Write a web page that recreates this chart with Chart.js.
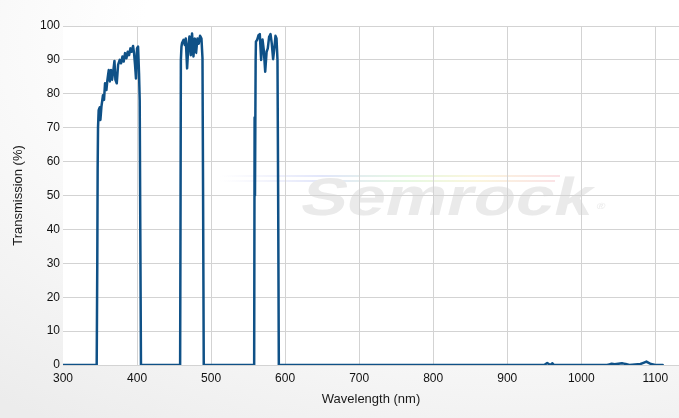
<!DOCTYPE html>
<html>
<head>
<meta charset="utf-8">
<script src="https://cdn.jsdelivr.net/npm/chart.js@4.4.1/dist/chart.umd.min.js"></script>
<style>
  html, body { margin: 0; padding: 0; }
  body {
    width: 679px;
    height: 418px;
    background: radial-gradient(ellipse 120% 110% at 75% 10%, #ffffff 45%, #ececec 100%);
  }
  #wrap { position: relative; width: 679px; height: 418px; }
</style>
</head>
<body>
<div id="wrap"><canvas id="transChart"></canvas></div>
<script>
// wavelength (nm) / transmission (%)
const wavelength = [
  300, 345.5, 346.3, 346.8, 347.3, 348.2, 349.6, 350.5, 351.9, 354, 355.4, 356.8, 358.6, 360,
  361.8, 363.1, 364.9, 366.2, 368.1, 369.5, 370.8, 372.6, 374.4, 376.6, 378.4, 380.3, 382,
  383.8, 385.7, 387.4, 389.2, 391.1, 392.8, 394.6, 396, 397.3, 398.6, 400, 401.4, 402.7,
  403.6, 404.4, 405.3,
  458.2, 458.8, 459.2, 460, 460.8, 462.7, 464.5, 465.8, 467.6, 469.5, 470.8, 472.6, 474.3,
  476.2, 478, 479.7, 481.6, 483.4, 485.1, 487, 488.4, 489.2, 490.1,
  558.2, 558.8, 559.3, 560.2, 560.6, 562.2, 564.1, 565.8, 567.6, 569.5, 571.2, 573.1, 575,
  576.6, 578.4, 580.3, 582, 583.8, 585.7, 587, 588.4, 589.7, 590.6, 591.5,
  950, 954, 956, 958, 961, 963, 1035, 1041, 1045, 1055, 1060, 1065, 1080, 1088, 1094, 1100, 1110
];
const transmission = [
  0, 0, 30, 58, 70, 75.2, 76, 72.3, 76.2, 79.6, 78.2, 83.1, 81.1, 84.1,
  87, 83.6, 87, 84.1, 87, 89.7, 84.1, 83.1, 88.5, 90, 89, 91, 89.5,
  92, 90.5, 92.4, 91.4, 93.4, 92.4, 94.1, 92, 88.5, 84.5, 93.4, 93.9, 86,
  78, 40, 0,
  0, 50, 90, 93.9, 95, 95.9, 94.4, 96.3, 87.5, 94.8, 96.9, 91.4, 97.8,
  91, 96.3, 92, 96.3, 94.8, 97.1, 96.3, 90.5, 50, 0,
  0, 73, 50, 90, 95.4, 95.9, 97.3, 97.6, 90, 96, 92.9, 86.5, 92.4,
  93.4, 96.8, 97.6, 94.8, 90.2, 93.9, 97.1, 96.3, 90, 50, 0,
  0, 0.6, 0.3, 0, 0.5, 0, 0, 0.4, 0.2, 0.5, 0.3, 0, 0.3, 1, 0.3, 0, 0
];
const xTicks = [300, 400, 500, 600, 700, 800, 900, 1000, 1100];
const yTicks = [0, 10, 20, 30, 40, 50, 60, 70, 80, 90, 100];

const points = wavelength.map((w, i) => ({ x: w, y: transmission[i] }));

// white plot area + faint logo behind the grid
const backdrop = {
  id: "backdrop",
  beforeDraw(chart) {
    const { ctx, chartArea: a } = chart;
    ctx.save();
    ctx.fillStyle = "#ffffff";
    ctx.fillRect(a.left, a.top, a.right - a.left, a.bottom - a.top);

    const stripe = ctx.createLinearGradient(220, 0, 560, 0);
    stripe.addColorStop(0, "rgba(200,200,240,0)");
    stripe.addColorStop(0.3, "rgba(190,200,245,0.45)");
    stripe.addColorStop(0.55, "rgba(200,240,190,0.45)");
    stripe.addColorStop(0.75, "rgba(245,235,180,0.45)");
    stripe.addColorStop(1, "rgba(245,190,200,0.45)");
    ctx.fillStyle = stripe;
    ctx.fillRect(220, 175, 340, 2);
    ctx.fillRect(215, 180, 340, 2);

    ctx.translate(298, 215);
    ctx.transform(1.3, 0, -0.25, 1, 0, 0);
    ctx.font = "bold 53px 'Liberation Sans', Arial, sans-serif";
    ctx.fillStyle = "#eaeaea";
    ctx.textBaseline = "alphabetic";
    ctx.fillText("Semrock", 0, 0);
    ctx.font = "9px 'Liberation Sans', Arial, sans-serif";
    ctx.fillText("®", 228, -6);
    ctx.restore();
  }
};

const labelFont = { family: "'Liberation Sans', Arial, sans-serif", size: 12 };
const titleFont = { family: "'Liberation Sans', Arial, sans-serif", size: 13 };

new Chart(document.getElementById("transChart"), {
  type: "line",
  data: {
    datasets: [{
      data: points,
      borderColor: "#0f5187",
      borderWidth: 2.5,
      borderJoinStyle: "round",
      borderCapStyle: "round",
      pointRadius: 0,
      // tiny tension keeps the lines straight but avoids the per-pixel fast path
      tension: 0.0001,
      fill: false
    }]
  },
  options: {
    responsive: true,
    maintainAspectRatio: false,
    animation: false,
    layout: { padding: { top: 26, right: 0, left: 0, bottom: 0 } },
    plugins: {
      legend: { display: false },
      tooltip: { enabled: false }
    },
    scales: {
      x: {
        type: "linear",
        min: 300,
        max: 1132,
        afterBuildTicks: (s) => { s.ticks = xTicks.map((v) => ({ value: v })); },
        afterFit: (s) => { s.height = 53; },
        border: { display: false },
        grid: {
          drawTicks: false,
          color: (c) => (c.tick && c.tick.value === 300 ? "rgba(0,0,0,0)" : "#d3d3d3")
        },
        ticks: {
          padding: 6,
          color: "#111",
          font: labelFont,
          callback: (v) => String(v)
        },
        title: {
          display: true,
          text: "Wavelength (nm)",
          color: "#1a1a1a",
          padding: { top: 4, bottom: 11 },
          font: titleFont
        }
      },
      y: {
        min: 0,
        max: 100,
        afterBuildTicks: (s) => { s.ticks = yTicks.map((v) => ({ value: v })); },
        afterFit: (s) => { s.width = 63; },
        border: { display: false },
        grid: { drawTicks: false, color: "#d3d3d3" },
        ticks: {
          padding: 3,
          color: "#111",
          font: labelFont,
          callback: (v) => String(v)
        },
        title: {
          display: true,
          text: "Transmission (%)",
          color: "#1a1a1a",
          padding: { top: 11, bottom: 4 },
          font: titleFont
        }
      }
    }
  },
  plugins: [backdrop]
});
</script>
</body>
</html>
